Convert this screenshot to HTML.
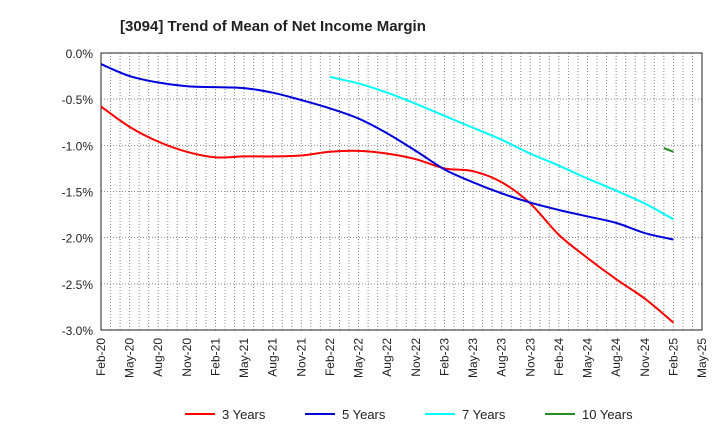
<!DOCTYPE html>
<html><head><meta charset="utf-8"><style>
body{margin:0;background:#fff;font-family:"Liberation Sans",sans-serif}
</style></head><body>
<svg id="c" width="720" height="440" xmlns="http://www.w3.org/2000/svg">
<text x="120" y="31" font-size="15" font-weight="bold" fill="#222">[3094]  Trend of Mean of Net Income Margin</text>
<g id="grid"></g><g id="axes"></g><g id="series"></g><g id="legend"></g>
</svg>
<script>
const xLabels=["Feb-20","May-20","Aug-20","Nov-20","Feb-21","May-21","Aug-21","Nov-21","Feb-22","May-22","Aug-22","Nov-22","Feb-23","May-23","Aug-23","Nov-23","Feb-24","May-24","Aug-24","Nov-24","Feb-25","May-25"];
const yTicks=[0,-0.5,-1,-1.5,-2,-2.5,-3];
const yTickLabels=["0.0%","-0.5%","-1.0%","-1.5%","-2.0%","-2.5%","-3.0%"];
const s3=[-0.58,-0.80,-0.96,-1.07,-1.13,-1.12,-1.12,-1.11,-1.07,-1.06,-1.09,-1.15,-1.25,-1.28,-1.40,-1.63,-1.97,-2.22,-2.45,-2.66,-2.92];
const s5=[-0.12,-0.25,-0.32,-0.36,-0.37,-0.38,-0.43,-0.51,-0.60,-0.71,-0.87,-1.06,-1.26,-1.40,-1.52,-1.62,-1.70,-1.77,-1.84,-1.95,-2.02];
const s7=[-0.26,-0.33,-0.43,-0.55,-0.68,-0.81,-0.94,-1.09,-1.22,-1.36,-1.49,-1.63,-1.80];
const s7Start=8;
const s10=[-1.03,-1.07];
const s10StartMonth=59;
const L=101,R=702,T=53,B=330,NM=63;
const NS="http://www.w3.org/2000/svg";
const xm=m=>L+(R-L)*m/NM;
const y=v=>T+(B-T)*(v/-3);
function mk(p,t,a){const e=document.createElementNS(NS,t);for(const k in a)e.setAttribute(k,a[k]);p.appendChild(e);return e;}
const grid=document.getElementById('grid'),axes=document.getElementById('axes'),ser=document.getElementById('series'),leg=document.getElementById('legend');
for(let m=1;m<NM;m++){const l=mk(grid,'line',{x1:xm(m),x2:xm(m),y1:T,y2:B,stroke:'#888','stroke-width':1,'stroke-dasharray':'1,2'});

}
yTicks.forEach((v,i)=>{
 if(i>0&&i<yTicks.length-1){const l=mk(grid,'line',{x1:L,x2:R,y1:y(v),y2:y(v),stroke:'#888','stroke-width':1,'stroke-dasharray':'1,2'});
 
 }
 const t=mk(axes,'text',{x:L-8,y:y(v)+5,'font-size':12,'text-anchor':'end',fill:'#222'});t.textContent=yTickLabels[i];
 
 
});
const fr=mk(axes,'rect',{x:L,y:T,width:R-L,height:B-T,fill:'none',stroke:'#222','stroke-width':1});


xLabels.forEach((s,i)=>{const x=xm(i*3);const t=mk(axes,'text',{transform:`translate(${x+4},${B+8}) rotate(-90)`,'font-size':12,'text-anchor':'end',fill:'#222'});t.textContent=s;
 
 });
function path(pts){let d=`M${pts[0][0]},${pts[0][1]}`;for(let i=0;i<pts.length-1;i++){const p0=pts[i-1]||pts[i],p1=pts[i],p2=pts[i+1],p3=pts[i+2]||p2;
 d+=` C${p1[0]+(p2[0]-p0[0])/6},${p1[1]+(p2[1]-p0[1])/6} ${p2[0]-(p3[0]-p1[0])/6},${p2[1]-(p3[1]-p1[1])/6} ${p2[0]},${p2[1]}`;}return d;}
function draw(vals,startMonth,step,color,name){const pts=vals.map((v,i)=>[xm(startMonth+i*step),y(v)]);
 const p=mk(ser,'path',{d:path(pts),fill:'none',stroke:color,'stroke-width':2});
 
 }
draw(s3,0,3,'#ff0000','series-3-years');
draw(s5,0,3,'#0000dd','series-5-years');
draw(s7,s7Start*3,3,'#00ffff','series-7-years');
draw(s10,s10StartMonth,1,'#228b22','series-10-years');
[['3 Years','#ff0000',185],['5 Years','#0000dd',305],['7 Years','#00ffff',425],['10 Years','#228b22',545]].forEach(([n,c,x])=>{
 const g=mk(leg,'g',{});
 
 
 mk(g,'line',{x1:x,x2:x+30,y1:414,y2:414,stroke:c,'stroke-width':2});
 const t=mk(g,'text',{x:x+37,y:419,'font-size':13,fill:'#222'});t.textContent=n;});
</script>
</body></html>
